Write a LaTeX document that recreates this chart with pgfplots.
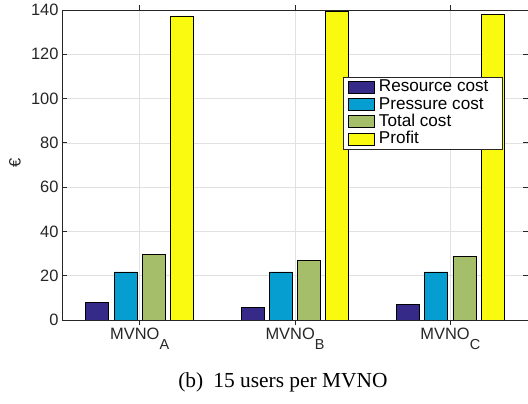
\documentclass[border=0pt]{standalone}
\usepackage{fontspec}
\setmainfont{Liberation Sans}
\newfontfamily\capfont{Liberation Serif}
\usepackage{pgfplots}
\pgfplotsset{compat=1.18}

\definecolor{axisgray}{RGB}{38,38,38}
\definecolor{gridgray}{RGB}{225,225,225}
\definecolor{rescol}{RGB}{53,42,135}
\definecolor{prescol}{RGB}{6,157,208}
\definecolor{totcol}{RGB}{165,190,106}
\definecolor{profcol}{RGB}{249,250,15}

% subscript in the style of the tick labels
\newcommand\sub[1]{\raisebox{-10bp}{\fontsize{14.5}{15}\selectfont #1}}
% legend entry with a fixed width
\newcommand\legentry[1]{\makebox[123bp][l]{\hspace{4bp}#1}}

\pgfplotsset{
  barleg/.style={legend image code/.code={%
      \draw[##1,draw=black,line width=0.8bp] (0bp,-6bp) rectangle (26bp,6bp);}},
}

\begin{document}
\begin{tikzpicture}
\begin{axis}[
  name=ax,
  scale only axis,
  width=466bp, height=310bp,
  xmin=0.5, xmax=3.5,
  ymin=0, ymax=140,
  xtick={1,2,3},
  xticklabels={MVNO\sub{A}, MVNO\sub{B}, MVNO\sub{C}},
  ytick={0,20,...,140},
  tick align=inside,
  tick pos=both,
  major tick length=5bp,
  grid=major,
  grid style={color=gridgray, line width=0.7bp},
  axis line style={color=axisgray, line width=0.8bp},
  tick style={color=axisgray, line width=0.8bp},
  ticklabel style={font=\fontsize{16.5}{18}\selectfont, text=axisgray},
  /pgf/number format/assume math mode=true,
  ylabel={€},
  ylabel style={font=\fontsize{16.5}{18}\selectfont, text=axisgray,
    at={(axis description cs:-0.1009,0.506)}, anchor=center},
  ybar=5.2bp, bar width=23bp,
  legend cell align=left,
  legend style={
    at={(0.946,0.784)}, anchor=north east,
    font=\fontsize{17.2}{18}\selectfont,
    draw=axisgray, line width=0.8bp,
    inner xsep=4.5bp, inner ysep=2bp,
    row sep=1.1bp,
    nodes={inner sep=0pt, text height=12.5bp, text depth=3.6bp},
    column sep=0bp,
  },
]
\addplot[fill=rescol, draw=black, line width=0.8bp, barleg]
  coordinates {(1,7.8) (2,5.6) (3,7.2)};
\addplot[fill=prescol, draw=black, line width=0.8bp, barleg]
  coordinates {(1,21.7) (2,21.7) (3,21.7)};
\addplot[fill=totcol, draw=black, line width=0.8bp, barleg]
  coordinates {(1,29.4) (2,27.0) (3,28.9)};
\addplot[fill=profcol, draw=black, line width=0.8bp, barleg]
  coordinates {(1,137.3) (2,139.5) (3,137.8)};
\legend{\legentry{Resource cost},\legentry{Pressure cost},\legentry{Total cost},\legentry{Profit}}
\end{axis}
\node[font=\capfont\fontsize{21.5}{24}\selectfont, anchor=base]
  at ([shift={(221bp,-67bp)}]ax.south west) {(b)\hspace{10bp}15 users per MVNO};
\pgfresetboundingbox
\path ([shift={(-62bp,-84bp)}]ax.south west) rectangle ([shift={(0bp,10bp)}]ax.north east);
\end{tikzpicture}
\end{document}
